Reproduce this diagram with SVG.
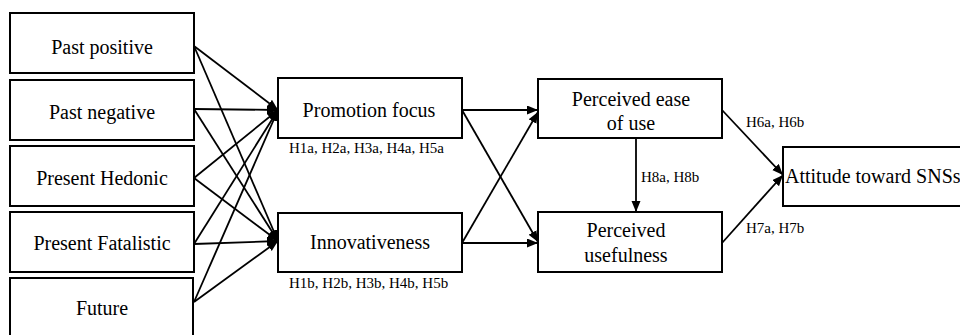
<svg xmlns="http://www.w3.org/2000/svg" width="960" height="335" viewBox="0 0 960 335">
<style>
.box{fill:#fff;stroke:#000;stroke-width:2}
.t{font-family:'Liberation Serif','DejaVu Serif',serif;font-size:20px;fill:#000;text-anchor:middle}
.s{font-family:'Liberation Serif','DejaVu Serif',serif;font-size:15px;fill:#000}
.c{stroke:#000;stroke-width:1.8;fill:none;marker-end:url(#ah)}
</style>
<defs>
<marker id="ah" markerUnits="userSpaceOnUse" markerWidth="12" markerHeight="10" refX="11" refY="4.5" orient="auto">
<path d="M0,0 L11,4.5 L0,9 z" fill="#000"/>
</marker>
</defs>
<rect width="960" height="335" fill="#fff"/>
<g id="connectors">
<line class="c" x1="194" y1="46" x2="278" y2="110"/>
<line class="c" x1="194" y1="46" x2="278" y2="241"/>
<line class="c" x1="194" y1="109" x2="278" y2="110"/>
<line class="c" x1="194" y1="109" x2="278" y2="241"/>
<line class="c" x1="194" y1="178" x2="278" y2="110"/>
<line class="c" x1="194" y1="178" x2="278" y2="241"/>
<line class="c" x1="194" y1="244" x2="278" y2="110"/>
<line class="c" x1="194" y1="244" x2="278" y2="241"/>
<line class="c" x1="194" y1="302" x2="278" y2="110"/>
<line class="c" x1="194" y1="302" x2="278" y2="241"/>
<line class="c" x1="462" y1="110" x2="538" y2="110"/>
<line class="c" x1="462" y1="110" x2="538" y2="242"/>
<line class="c" x1="462" y1="243" x2="538" y2="112"/>
<line class="c" x1="462" y1="243" x2="538" y2="243"/>
<line class="c" x1="636" y1="138" x2="636" y2="212"/>
<line class="c" x1="722" y1="110" x2="783" y2="175"/>
<line class="c" x1="722" y1="243" x2="783" y2="175"/>
</g>
<g id="past-positive"><rect class="box" x="10" y="13" width="184" height="60"/><text class="t" x="102" y="54">Past positive</text></g>
<g id="past-negative"><rect class="box" x="10" y="80" width="184" height="60"/><text class="t" x="102" y="119">Past negative</text></g>
<g id="present-hedonic"><rect class="box" x="10" y="146" width="184" height="60"/><text class="t" x="102" y="185">Present Hedonic</text></g>
<g id="present-fatalistic"><rect class="box" x="10" y="212" width="184" height="60"/><text class="t" x="102" y="250">Present Fatalistic</text></g>
<g id="future"><rect class="box" x="10" y="278" width="183" height="62"/><text class="t" x="102" y="315">Future</text></g>
<g id="promotion-focus"><rect class="box" x="278" y="78" width="184" height="60"/><text class="t" x="369" y="117">Promotion focus</text><text class="s" x="289" y="153">H1a, H2a, H3a, H4a, H5a</text></g>
<g id="innovativeness"><rect class="box" x="278" y="213" width="184" height="59"/><text class="t" x="370" y="249">Innovativeness</text><text class="s" x="289" y="288">H1b, H2b, H3b, H4b, H5b</text></g>
<g id="peou"><rect class="box" x="538" y="79" width="184" height="59"/><text class="t" x="631" y="106">Perceived ease</text><text class="t" x="631" y="130">of use</text></g>
<g id="pu"><rect class="box" x="538" y="212" width="184" height="60"/><text class="t" x="626" y="237">Perceived</text><text class="t" x="626" y="262">usefulness</text></g>
<g id="attitude"><rect class="box" x="783" y="147" width="190" height="59"/><text class="t" x="785" y="183" style="text-anchor:start">Attitude toward SNSs</text></g>
<g id="labels">
<text class="s" x="641" y="182">H8a, H8b</text>
<text class="s" x="746" y="127">H6a, H6b</text>
<text class="s" x="746" y="233">H7a, H7b</text>
</g>
</svg>
